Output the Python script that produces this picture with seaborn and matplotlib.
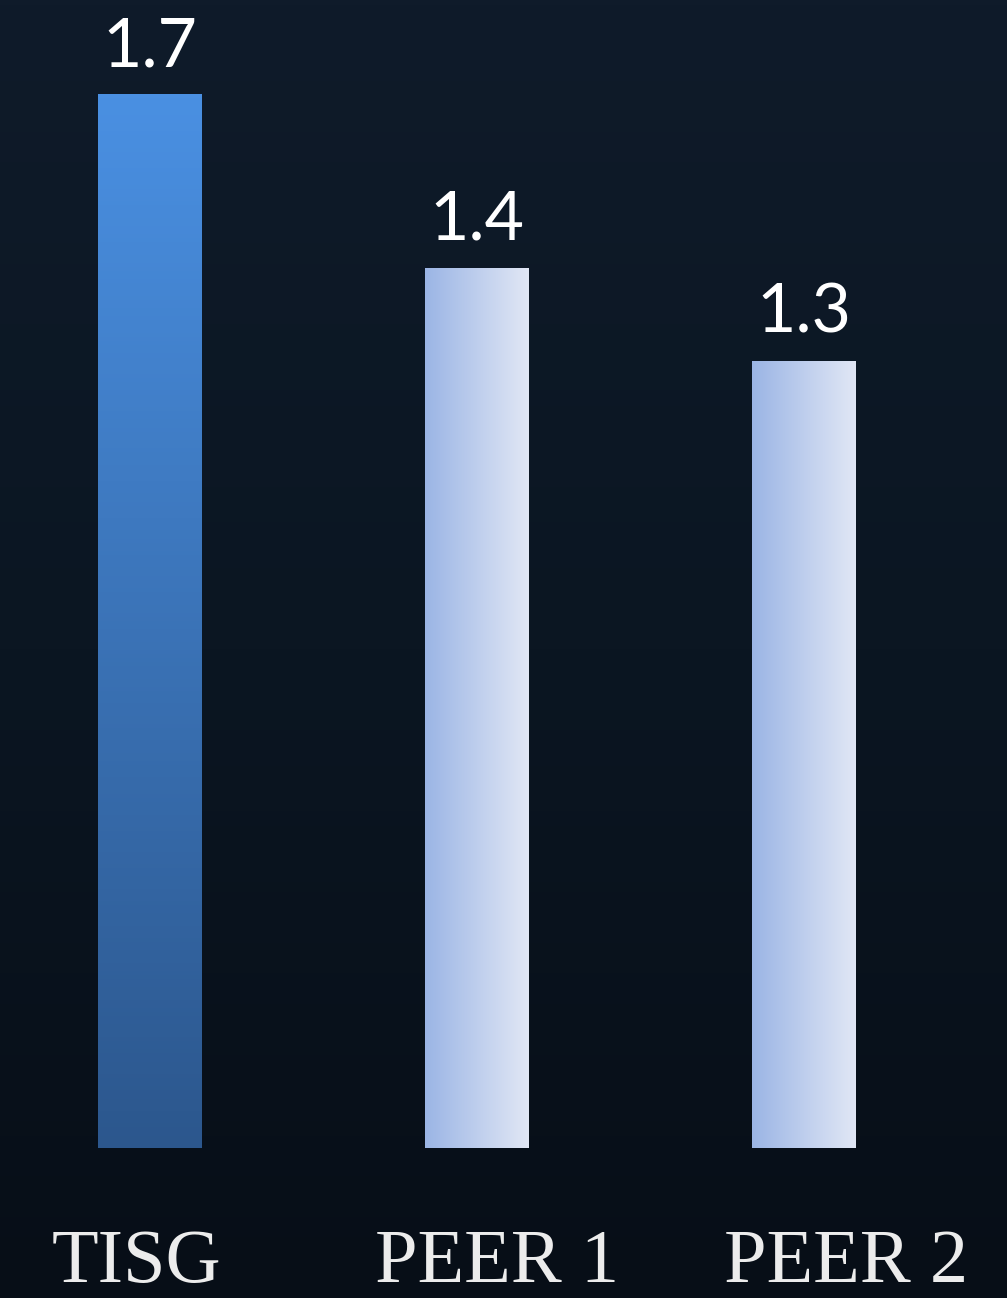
import numpy as np
import matplotlib
matplotlib.use("Agg")
import matplotlib.pyplot as plt
from matplotlib.colors import LinearSegmentedColormap
from matplotlib.transforms import ScaledTranslation
import seaborn as sns
import pandas as pd

categories = ["TISG", "PEER 1", "PEER 2"]
values = [1.70, 1.42, 1.27]
value_labels = ["1.7", "1.4", "1.3"]

sns.set_theme(style="white")
plt.rcParams['font.family'] = ['Lato', 'DejaVu Sans']

W, H = 1007, 1298
fig = plt.figure(figsize=(W / 100, H / 100), dpi=100)

# background
bg = fig.add_axes([0, 0, 1, 1], zorder=-10)
grad = np.linspace(0, 1, 256).reshape(-1, 1)
bg_cmap = LinearSegmentedColormap.from_list("bg", ["#0f1b2a", "#0b1622", "#070e17"])
bg.imshow(grad, aspect="auto", cmap=bg_cmap, extent=[0, 1, 0, 1])
bg.set_axis_off()

# main axes: bottom at 150px from bottom, top at figure top
ax = fig.add_axes([0, 150 / H, 1, (H - 150) / H])
ax.patch.set_alpha(0)
df = pd.DataFrame({"cat": categories, "val": values})
sns.barplot(data=df, x="cat", y="val", width=0.318, ax=ax, color="#4a90e2",
            saturation=1, edgecolor="none")

cm_main = LinearSegmentedColormap.from_list("main", ["#2c578d", "#4a90e2"])
cm_peer = LinearSegmentedColormap.from_list("peer", ["#9bb5e5", "#e1e7f5"])

for i, p in enumerate(ax.patches):
    x0, y0 = p.get_x(), p.get_y()
    w, h = p.get_width(), p.get_height()
    if i == 0:
        img = np.linspace(0, 1, 256).reshape(-1, 1)
        cmap = cm_main
    else:
        img = np.linspace(0, 1, 256).reshape(1, -1)
        cmap = cm_peer
    im = ax.imshow(img, cmap=cmap, aspect="auto", origin="lower",
                   extent=[x0, x0 + w, y0, y0 + h], zorder=3)
    im.set_clip_path(p)
    p.set_facecolor("none")
    ax.annotate(value_labels[i], (x0 + w / 2, y0 + h), xytext=(0, 20),
                textcoords="offset points", ha="center", va="baseline",
                color="white", fontsize=49, fontweight="normal",
                fontfamily=["Lato", "DejaVu Sans"])

ax.set_xlim(-150 / 327, (W - 150) / 327)
ax.set_ylim(0, 1148 / 620)

ax.set_xlabel("")
ax.set_ylabel("")
ax.set_yticks([])
ax.set_xticks(range(len(categories)))
ax.set_xticklabels([])
ax.tick_params(axis="x", length=0, pad=0)
for s in ax.spines.values():
    s.set_visible(False)

# category labels below the bars
offsets = [-14, 20, 42]
for i, c in enumerate(categories):
    ax.text(i, 0, c, ha="center", va="baseline",
            fontfamily=["Liberation Serif", "DejaVu Serif"], fontsize=55,
            color="#ececec",
            transform=ax.transData + ScaledTranslation(offsets[i] / 100, -134 / 100, fig.dpi_scale_trans))

fig.savefig("out.png", dpi=100)
